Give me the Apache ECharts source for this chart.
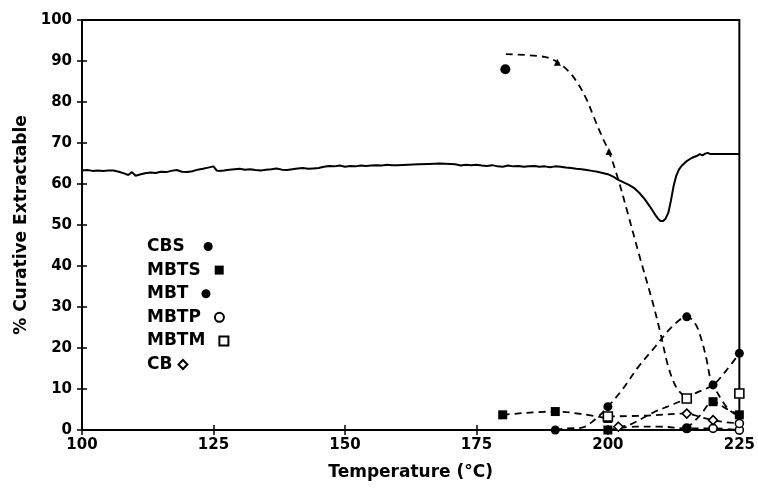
<!DOCTYPE html>
<html>
<head>
<meta charset="utf-8">
<script src="https://cdn.jsdelivr.net/npm/echarts@6/dist/echarts.min.js"></script>
<style>
  html, body { margin: 0; padding: 0; background: #fff; }
  #main { width: 758px; height: 490px; }
</style>
</head>
<body>
<div id="main"></div>
<script>
// solid curve (measured)
var solidLine = [
  [100, 63.3], [101, 63.4], [102, 63.2], [103, 63.3], [104, 63.2], [105, 63.3], [106, 63.3],
  [107, 63.0], [108, 62.6], [108.8, 62.2], [109.5, 62.9], [110.2, 62.0], [111, 62.3], [112, 62.6],
  [113, 62.8], [114, 62.7], [115, 63.0], [116, 62.9], [117, 63.2], [118, 63.4], [119, 63.0],
  [120, 62.9], [121, 63.1], [122, 63.5], [123, 63.7], [124, 64.0], [125, 64.3], [125.6, 63.3],
  [126, 63.2], [127, 63.3], [128, 63.5], [129, 63.6], [130, 63.7], [131, 63.5], [132, 63.6],
  [133, 63.4], [134, 63.3], [135, 63.5], [136, 63.6], [137, 63.8], [138, 63.5], [139, 63.4],
  [140, 63.6], [141, 63.8], [142, 63.9], [143, 63.7], [144, 63.8], [145, 63.9], [146, 64.2],
  [147, 64.4], [148, 64.3], [149, 64.5], [150, 64.2], [151, 64.4], [152, 64.3], [153, 64.5],
  [154, 64.4], [155, 64.5], [156, 64.6], [157, 64.5], [158, 64.7], [159, 64.6], [160, 64.6],
  [162, 64.7], [164, 64.8], [166, 64.9], [168, 65.0], [170, 64.9], [171, 64.8], [172, 64.5],
  [173, 64.7], [174, 64.6], [175, 64.7], [176, 64.5], [177, 64.4], [178, 64.6], [179, 64.3],
  [180, 64.2], [181, 64.5], [182, 64.3], [183, 64.4], [184, 64.2], [185, 64.3], [186, 64.4],
  [187, 64.2], [188, 64.3], [189, 64.1], [190, 64.3], [191, 64.2], [192, 64.0], [193, 63.9],
  [194, 63.7], [195, 63.6], [196, 63.4], [197, 63.2], [198, 63.0], [199, 62.7], [200, 62.4],
  [201, 61.8], [202, 61.0], [203, 60.4], [204, 59.8], [205, 59.0], [206, 57.8], [207, 56.3],
  [208, 54.5], [209, 52.5], [209.5, 51.6], [210, 51.0], [210.5, 51.0], [211, 51.6], [211.5, 53.0],
  [212, 56.0], [212.5, 59.5], [213, 62.0], [213.5, 63.5], [214, 64.4], [215, 65.6], [216, 66.4],
  [217, 66.9], [217.5, 67.3], [218, 67.0], [218.5, 67.4], [219, 67.6], [219.5, 67.3], [220, 67.3],
  [225, 67.3]
];

// dashed trend curves
var trendCBS = [[180.6, 91.7], [188, 91], [190.4, 89.7], [192.6, 87.4], [194.5, 84.1], [196, 80.5],
  [197.3, 76.4], [198.9, 71.5], [200.2, 67.9], [202, 61], [203.6, 53.7], [206, 42.5], [208.4, 31.7],
  [210, 23.6], [211.5, 15.4], [213.1, 10.2], [215, 7.7]];
var trendPeak = [[190, 0], [192.2, 0.4], [194.8, 0.5], [197.5, 2.5], [200, 5.7], [202.7, 9.8],
  [205.8, 15.4], [209, 20.3], [212.2, 25.2], [215, 27.6], [216.6, 26], [217.8, 22], [218.8, 17],
  [219.4, 13], [220, 11], [222.5, 5.7], [223.9, 4.1], [225, 3.7]];
var trendRise = [[202, 0.8], [204, 1.2], [206.5, 2.8], [209, 4.5], [211.5, 5.8], [215, 7.7],
  [216.7, 9], [220, 11], [222.5, 14.5], [225, 18.7]];
var trendMBTS = [[180, 3.7], [190, 4.5], [195, 3.9], [200, 2.8]];
var trendFlat3 = [[200, 3.3], [207, 3.5], [215, 4.0], [217.5, 3.2], [220, 2.4], [222.5, 1.9], [225, 1.6]];
var trendFlat1 = [[200, 0], [205, 0.8], [210, 0.8], [215, 0.4], [220, 0.4], [225, 0]];
var trendLate = [[215, 0.4], [217.5, 3.5], [220, 6.9], [222.5, 5.2], [225, 3.7]];

// markers
var cbsPts = [[180.5, 88], [215, 0.4]];
var cbsSmall = [[190.4, 89.7], [200.2, 67.9]];
var mbtsPts = [[180, 3.7], [190, 4.5], [200, 2.8], [200, 0], [220, 6.9], [225, 3.7]];
var mbtPts = [[190, 0], [200, 5.7], [215, 27.6], [220, 11], [225, 18.7]];
var mbtpPts = [[220, 0.4], [225, 0], [225, 1.6]];
var mbtmPts = [[200, 3.3], [215, 7.7], [225, 8.9]];
var cbPts = [[202, 0.8], [215, 4.0], [220, 2.4]];

var legendNames = ["CBS", "MBTS", "MBT", "MBTP", "MBTM", "CB"];
var legendIconGap = [14, 9, 8, 9, 9, 1];

var myChart = echarts.init(document.getElementById("main"));
var font = "DejaVu Sans";
var filled = { color: "#000", opacity: 1 };
var hollow = { color: "#fff", borderColor: "#000", borderWidth: 1.6, opacity: 1 };

function dashed(name, data) {
  return {
    name: name,
    type: "line",
    smooth: 0.35,
    showSymbol: false,
    silent: true,
    data: data,
    lineStyle: { color: "#000", width: 1.8, type: [7, 5] },
    z: 3
  };
}
function marks(name, symbol, size, style, data) {
  return {
    name: name,
    type: "scatter",
    symbol: symbol,
    symbolSize: size,
    itemStyle: style,
    data: data,
    z: 5
  };
}

// one legend per row so that the rows stay left-aligned
var legends = legendNames.map(function(n, i) {
  return {
    orient: "vertical",
    left: 142,
    top: 233 + i * 23.6,
    align: "right",
    itemWidth: 9,
    itemHeight: 9,
    data: [n],
    textStyle: {
      fontFamily: font, fontWeight: "bold", fontSize: 17, color: "#000",
      padding: [0, legendIconGap[i], 0, 0]
    }
  };
});

var axisCommon = {
  type: "value",
  axisLine: { show: true, lineStyle: { color: "#000", width: 2 } },
  splitLine: { show: false }
};

var option = {
  animation: false,
  backgroundColor: "#fff",
  grid: {
    left: 82, right: 17, top: 20, bottom: 60,
    show: true, borderColor: "#000", borderWidth: 2
  },
  legend: legends,
  xAxis: [
    Object.assign({}, axisCommon, {
      min: 100, max: 225, interval: 25,
      name: "Temperature (°C)",
      nameLocation: "middle",
      nameGap: 34,
      nameTextStyle: { fontFamily: font, fontWeight: "bold", fontSize: 17, color: "#000" },
      axisTick: { show: true, inside: false, length: 5, lineStyle: { color: "#000", width: 1.5 } },
      axisLabel: { margin: 8, fontFamily: font, fontWeight: "bold", fontSize: 15, color: "#000" }
    }),
    Object.assign({}, axisCommon, {
      min: 100, max: 225, interval: 25, position: "bottom",
      axisLine: { show: false },
      axisTick: { show: true, inside: true, length: 5, lineStyle: { color: "#000", width: 1.5 } },
      axisLabel: { show: false }
    })
  ],
  yAxis: [
    Object.assign({}, axisCommon, {
      min: 0, max: 100, interval: 10,
      name: "% Curative Extractable",
      nameLocation: "middle",
      nameGap: 52,
      nameTextStyle: { fontFamily: font, fontWeight: "bold", fontSize: 17, color: "#000" },
      axisTick: { show: true, inside: false, length: 5, lineStyle: { color: "#000", width: 1.5 } },
      axisLabel: { margin: 10, fontFamily: font, fontWeight: "bold", fontSize: 15, color: "#000" }
    }),
    Object.assign({}, axisCommon, {
      min: 0, max: 100, interval: 10, position: "left",
      axisLine: { show: false },
      axisTick: { show: true, inside: true, length: 5, lineStyle: { color: "#000", width: 1.5 } },
      axisLabel: { show: false }
    })
  ],
  series: [
    {
      name: "solid",
      type: "line",
      showSymbol: false,
      silent: true,
      data: solidLine,
      lineStyle: { color: "#000", width: 2 },
      z: 2
    },
    dashed("t1", trendCBS),
    dashed("t2", trendPeak),
    dashed("t3", trendRise),
    dashed("t4", trendMBTS),
    dashed("t5", trendFlat3),
    dashed("t6", trendFlat1),
    dashed("t7", trendLate),
    marks("CBS", "circle", 10, filled, cbsPts),
    marks("cbsSmall", "triangle", 7, filled, cbsSmall),
    marks("MBTS", "rect", 9, filled, mbtsPts),
    marks("MBT", "circle", 9, filled, mbtPts),
    marks("MBTP", "circle", 8, hollow, mbtpPts),
    marks("MBTM", "rect", 9, hollow, mbtmPts),
    marks("CB", "diamond", 9, hollow, cbPts)
  ]
};
myChart.setOption(option);
</script>
</body>
</html>
